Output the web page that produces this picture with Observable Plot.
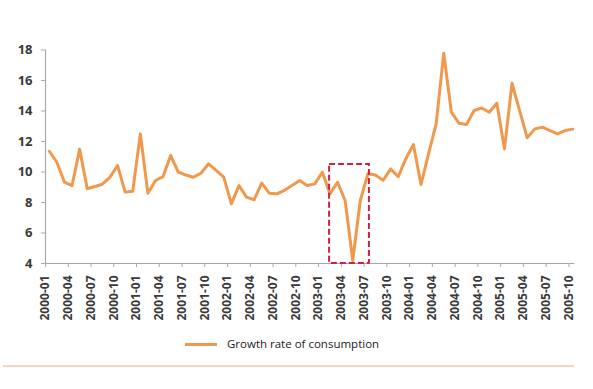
<!DOCTYPE html>
<html>
<head>
<meta charset="utf-8">
<script src="https://cdn.jsdelivr.net/npm/d3@7"></script>
<script src="https://cdn.jsdelivr.net/npm/@observablehq/plot@0.6"></script>
<style>
  html, body { margin: 0; padding: 0; background: #fff; }
  #chart { width: 593px; }
  .legend { position: relative; height: 24px; font-family: "Open Sans", "Liberation Sans", sans-serif; font-size: 11.5px; color: #222; }
  .legend .sw { position: absolute; left: 185px; top: 11px; width: 32px; height: 3px; background: #F0994C; }
  .legend .lb { position: absolute; left: 227px; top: 4px; }
  .sep { position: absolute; left: 3px; top: 365px; width: 571px; height: 2px; background: #F5D6BE; }
</style>
</head>
<body>
<div id="chart"></div>
<div class="sep"></div>
<script>
// Monthly labels 2000-01 .. 2005-10
const years = [2000, 2001, 2002, 2003, 2004, 2005];
const months = ["01","02","03","04","05","06","07","08","09","10","11","12"];
const periods = years.flatMap(y => months.map(m => `${y}-${m}`)).slice(0, 70);

// Growth rate of consumption (%)
const growth = [
  11.36, 10.64, 9.33, 9.10, 11.50, 8.90, 9.05, 9.20, 9.66, 10.43,
  8.68, 8.74, 12.50, 8.60, 9.44, 9.70, 11.08, 10.00, 9.80, 9.66,
  9.92, 10.54, 10.10, 9.66, 7.91, 9.11, 8.35, 8.18, 9.27, 8.61,
  8.57, 8.80, 9.11, 9.44, 9.11, 9.22, 9.99, 8.57, 9.33, 8.13,
  4.20, 8.13, 9.88, 9.80, 9.45, 10.20, 9.70, 10.87, 11.80, 9.18,
  11.20, 13.16, 17.79, 13.92, 13.20, 13.11, 14.03, 14.20, 13.92, 14.51,
  11.52, 15.82, 14.03, 12.24, 12.83, 12.94, 12.72, 12.50, 12.72, 12.81
];

const yTicks = [4, 6, 8, 10, 12, 14, 16, 18];

// Highlighted period (dashed box): from mid-2003-02 to late 2003-06, up to 10.5
const highlight = [{x1: 37.45, x2: 42.7, y1: 4, y2: 10.5}];

const data = growth.map((v, i) => ({i: i + 0.5, v, period: periods[i]}));
const tickPos = periods.map((p, i) => i).filter(i => i % 3 === 0);

const chart = Plot.plot({
  width: 593,
  height: 332,
  marginLeft: 45,
  marginRight: 17,
  marginTop: 49.5,
  marginBottom: 69,
  style: {fontFamily: "'Open Sans', 'Liberation Sans', sans-serif", color: "#404040", background: "#fff"},
  x: {domain: [0, 70], axis: null},
  y: {domain: [4, 18], axis: null},
  marks: [
    Plot.axisY({ticks: yTicks, tickSize: 4, tickPadding: 9, fontSize: 13, fontWeight: 700, stroke: "#aaa", fill: "#3a3a3a"}),
    Plot.ruleX([0], {y1: 4, y2: 18, stroke: "#aaa", strokeWidth: 1.2}),
    Plot.axisX({ticks: tickPos, tickFormat: i => periods[i], tickSize: 4, tickRotate: -90, tickPadding: 8, fontSize: 12, fontWeight: 700, stroke: "#aaa", fill: "#3a3a3a"}),
    Plot.ruleY([4], {x1: 0, x2: 69.8, stroke: "#aaa", strokeWidth: 1.2}),
    Plot.line(data, {x: "i", y: "v", stroke: "#F0994C", strokeWidth: 3, strokeLinejoin: "round"}),
    Plot.rect(highlight, {x1: "x1", x2: "x2", y1: "y1", y2: "y2", fill: "none", stroke: "#D0203F", strokeWidth: 2, strokeDasharray: "6,3"})
  ]
});
document.getElementById("chart").appendChild(chart);

const legend = document.createElement("div");
legend.className = "legend";
legend.innerHTML = '<div class="sw"></div><div class="lb">Growth rate of consumption</div>';
document.getElementById("chart").appendChild(legend);
</script>
</body>
</html>
